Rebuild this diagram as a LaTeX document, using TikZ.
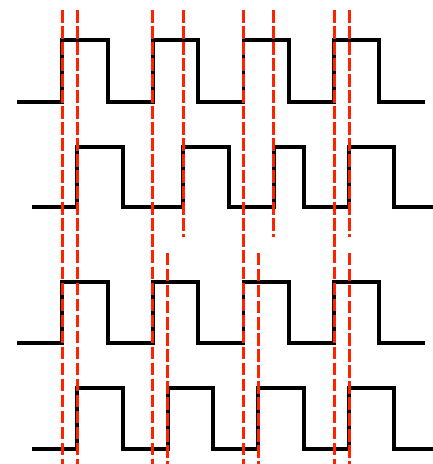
\documentclass[tikz,border=0pt]{standalone}
\definecolor{markred}{RGB}{255,34,0}
\begin{document}
\begin{tikzpicture}[x=1.1325cm, y=1.1325cm,
    wave/.style={line width=2.8pt, black},
    marker/.style={line width=2.1pt, markred, dash pattern=on 8.9pt off 2.5pt}]
    \useasboundingbox (-0.375,0) rectangle (9.183,10.243);

    % Reference clock (top)
    \draw[wave] (0,8) -| (1,9.35) -| (2,8) -| (3,9.35) -| (4,8) -| (5,9.35) -| (6,8) -| (7,9.35) -| (8,8) -- (9,8);

    % Jittered signal
    \draw[wave] (0.33,5.67) -| (1.33,7) -| (2.33,5.67) -| (3.67,7) -| (4.67,5.67) -| (5.67,7) -| (6.33,5.67) -| (7.33,7) -| (8.33,5.67) -- (9.4,5.67);

    % Reference clock (bottom pair)
    \draw[wave] (0,2.67) -| (1,4.02) -| (2,2.67) -| (3,4.02) -| (4,2.67) -| (5,4.02) -| (6,2.67) -| (7,4.02) -| (8,2.67) -- (9,2.67);

    % Delayed signal
    \draw[wave] (0.33,0.33) -| (1.33,1.68) -| (2.33,0.33) -| (3.33,1.68) -| (4.33,0.33) -| (5.33,1.68) -| (6.33,0.33) -| (7.33,1.68) -| (8.33,0.33) -- (9.4,0.33);

    % Edge markers, full height
    \foreach \x in {1,1.33,3,5,7}
        \draw[marker] (\x,10.02) -- (\x,-0.1);
    % upper pair only
    \foreach \x in {3.67,5.67,7.33}
        \draw[marker] (\x,10.02) -- (\x,5.01);
    % lower pair only
    \foreach \x in {3.33,5.33,7.33}
        \draw[marker] (\x,4.66) -- (\x,-0.1);

\end{tikzpicture}
\end{document}
